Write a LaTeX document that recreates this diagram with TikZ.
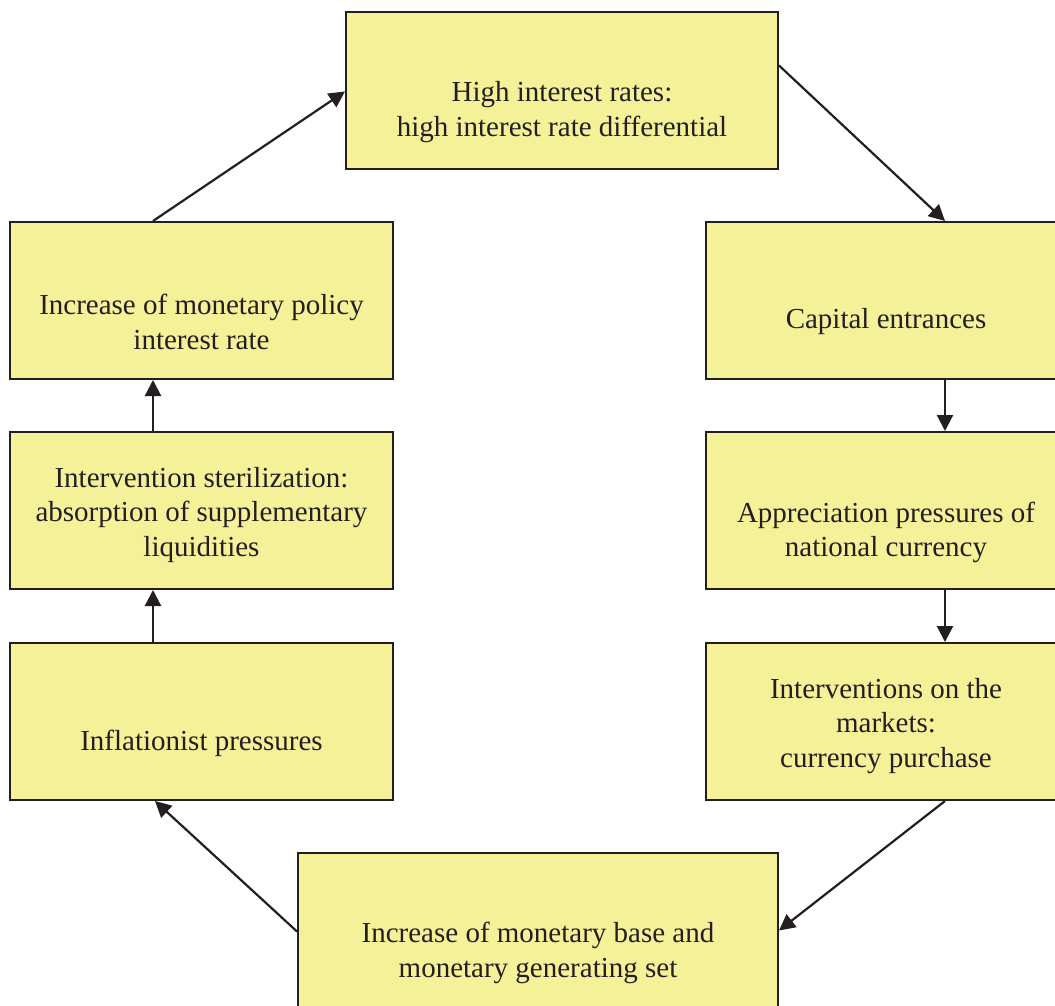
\documentclass[tikz,border=0pt]{standalone}
\usepackage{fontspec}
\setmainfont{Liberation Serif}
\usetikzlibrary{arrows.meta}
\definecolor{boxfill}{HTML}{F5F199}
\definecolor{ink}{HTML}{231F20}
\tikzset{
  box/.style={draw=ink, line width=2pt, fill=boxfill, inner sep=0pt, minimum height=157pt},
  lbl/.style={text=ink, align=center, inner sep=0pt, font=\fontsize{29}{34.5}\selectfont},
  conn/.style={draw=ink, line width=2.2pt, -{Triangle[length=16pt,width=16pt]}}
}
\begin{document}
\begin{tikzpicture}[x=1pt,y=-1pt]
\clip (0,0) rectangle (1055,1006);
\fill[white] (0,0) rectangle (1055,1006);
% boxes
\node[box, minimum width=432pt] (top) at (562,90.5) {};
\node[box, minimum width=383pt] (L1) at (201.5,300.5) {};
\node[box, minimum width=383pt] (L2) at (201.5,510.5) {};
\node[box, minimum width=383pt] (L3) at (201.5,721.5) {};
\node[box, minimum width=360pt] (R1) at (886,300.5) {};
\node[box, minimum width=360pt] (R2) at (886,510.5) {};
\node[box, minimum width=360pt] (R3) at (886,721.5) {};
\node[box, minimum width=480pt] (bot) at (538,931.5) {};
% labels
\node[lbl] (ttop) at (562,112) {High interest rates:\\high interest rate differential};
\node[lbl] (tL1) at (201.5,322) {Increase of monetary policy\\interest rate};
\node[lbl] (tL2) at (201.5,515) {Intervention sterilization:\\absorption of supplementary\\liquidities};
\node[lbl] (tL3) at (201.5,743) {Inflationist pressures};
\node[lbl] (tR1) at (886,322) {Capital entrances};
\node[lbl] (tR2) at (886,532.5) {Appreciation pressures of\\national currency};
\node[lbl] (tR3) at (886,726) {Interventions on the\\markets:\\currency purchase};
\node[lbl] (tbot) at (538,953) {Increase of monetary base and\\monetary generating set};
% connectors
\draw[conn] ([xshift=-48.5pt]L1.north) -- ([yshift=-1pt]top.west);
\draw[conn] ([yshift=25pt]top.east) -- ([xshift=59pt]R1.north);
\draw[conn] ([xshift=59pt]R1.south) -- ([xshift=59pt]R2.north);
\draw[conn] ([xshift=59pt]R2.south) -- ([xshift=59pt]R3.north);
\draw[conn] ([xshift=59pt]R3.south) -- ([yshift=1pt]bot.east);
\draw[conn] (bot.west) -- ([xshift=-46.5pt]L3.south);
\draw[conn] ([xshift=-48.5pt]L3.north) -- ([xshift=-48.5pt]L2.south);
\draw[conn] ([xshift=-48.5pt]L2.north) -- ([xshift=-48.5pt]L1.south);
\end{tikzpicture}
\end{document}
